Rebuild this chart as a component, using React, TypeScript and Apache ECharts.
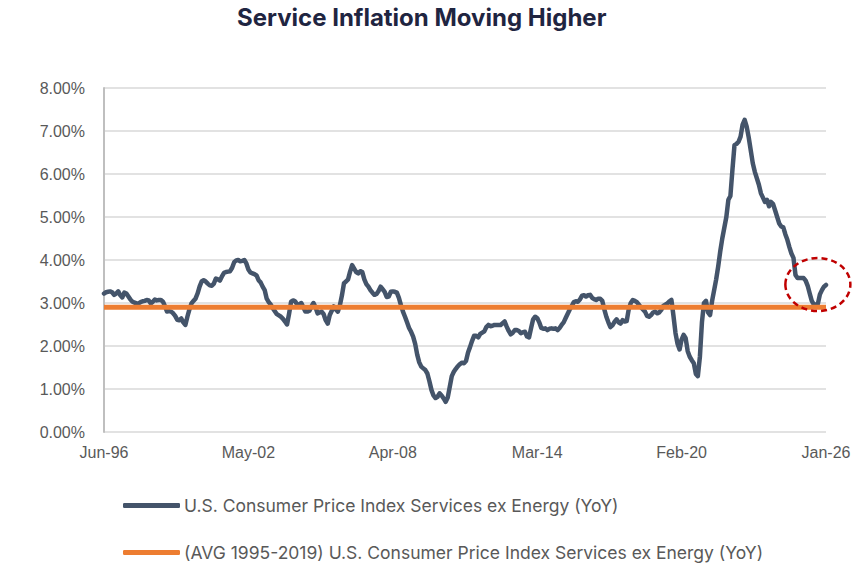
import React, { useEffect, useRef } from "react";
import * as echarts from "echarts";

// Monthly YoY readings, starting Jun-1996 and ending Jan-2026
const startYear = 1996;
const startMonth = 5; // June (0-based)
const monthNames = ["Jan", "Feb", "Mar", "Apr", "May", "Jun", "Jul", "Aug", "Sep", "Oct", "Nov", "Dec"];

const servicesExEnergy: number[] = [
  3.22, 3.25, 3.26, 3.27, 3.25, 3.19, 3.22, 3.27, 3.18, 3.13, 3.24, 3.22,
  3.15, 3.08, 3.03, 3.01, 2.99, 2.99, 3.02, 3.04, 3.05, 3.07, 3.06, 2.99,
  3.03, 3.08, 3.06, 3.07, 3.07, 3.03, 2.92, 2.80, 2.81, 2.80, 2.76, 2.70,
  2.61, 2.60, 2.64, 2.55, 2.49, 2.68, 2.85, 2.99, 3.05, 3.10, 3.22, 3.38,
  3.50, 3.53, 3.50, 3.45, 3.41, 3.40, 3.45, 3.57, 3.55, 3.52, 3.62, 3.70,
  3.72, 3.73, 3.74, 3.82, 3.95, 3.99, 4.00, 3.97, 3.98, 4.00, 3.92, 3.78,
  3.71, 3.69, 3.67, 3.64, 3.53, 3.48, 3.38, 3.30, 3.10, 3.02, 2.96, 2.88,
  2.81, 2.74, 2.71, 2.68, 2.63, 2.57, 2.50, 2.75, 3.03, 3.06, 3.04, 2.96,
  2.97, 3.00, 2.90, 2.80, 2.80, 2.82, 2.92, 3.00, 2.90, 2.76, 2.78, 2.80,
  2.74, 2.60, 2.52, 2.72, 2.82, 2.92, 2.85, 2.80, 2.95, 3.18, 3.46, 3.50,
  3.55, 3.73, 3.88, 3.80, 3.72, 3.69, 3.74, 3.72, 3.55, 3.44, 3.38, 3.30,
  3.24, 3.19, 3.21, 3.28, 3.38, 3.32, 3.26, 3.14, 3.15, 3.26, 3.27, 3.26,
  3.24, 3.12, 2.95, 2.80, 2.68, 2.55, 2.42, 2.33, 2.22, 2.05, 1.80, 1.62,
  1.52, 1.48, 1.44, 1.36, 1.18, 0.98, 0.85, 0.79, 0.82, 0.90, 0.85, 0.78,
  0.70, 0.80, 1.05, 1.30, 1.40, 1.47, 1.53, 1.58, 1.61, 1.60, 1.65, 1.85,
  1.98, 2.12, 2.24, 2.24, 2.20, 2.28, 2.31, 2.34, 2.44, 2.49, 2.46, 2.47,
  2.49, 2.49, 2.49, 2.49, 2.53, 2.57, 2.45, 2.35, 2.27, 2.31, 2.37, 2.37,
  2.35, 2.30, 2.32, 2.33, 2.22, 2.20, 2.42, 2.62, 2.68, 2.65, 2.55, 2.42,
  2.40, 2.41, 2.37, 2.40, 2.41, 2.40, 2.41, 2.37, 2.42, 2.49, 2.55, 2.65,
  2.75, 2.85, 2.93, 3.02, 3.04, 3.03, 3.08, 3.17, 3.18, 3.15, 3.18, 3.19,
  3.12, 3.09, 3.07, 3.10, 3.10, 3.05, 2.85, 2.68, 2.55, 2.44, 2.48, 2.56,
  2.62, 2.55, 2.52, 2.60, 2.57, 2.58, 2.85, 3.00, 3.07, 3.05, 3.02, 2.96,
  2.90, 2.85, 2.80, 2.70, 2.68, 2.72, 2.78, 2.80, 2.76, 2.78, 2.84, 2.93,
  2.96, 2.99, 3.04, 3.07, 2.70, 2.30, 2.05, 1.92, 2.15, 2.26, 2.18, 1.88,
  1.75, 1.67, 1.60, 1.35, 1.30, 1.75, 2.55, 3.00, 3.05, 2.78, 2.72, 3.05,
  3.30, 3.55, 3.85, 4.20, 4.50, 4.75, 5.00, 5.40, 5.49, 6.10, 6.67, 6.70,
  6.75, 6.87, 7.15, 7.26, 7.10, 6.85, 6.55, 6.25, 6.05, 5.90, 5.75, 5.55,
  5.45, 5.35, 5.40, 5.25, 5.35, 5.30, 5.15, 5.00, 4.85, 4.78, 4.76, 4.60,
  4.47, 4.30, 4.15, 4.05, 3.65, 3.58, 3.58, 3.58, 3.58, 3.52, 3.40, 3.22,
  3.05, 2.97, 2.95, 2.98, 3.20, 3.30, 3.38, 3.42,
];

// Long-run average (1995-2019)
const avgValue = 2.9;

const categories: string[] = servicesExEnergy.map((_, i) => {
  const m = startMonth + i;
  const y = startYear + Math.floor(m / 12);
  return `${monthNames[m % 12]}-${String(y % 100).padStart(2, "0")}`;
});

const seriesNames = [
  "U.S. Consumer Price Index Services ex Energy (YoY)",
  "(AVG 1995-2019) U.S. Consumer Price Index Services ex Energy (YoY)",
];

const yTicks = { min: 0, max: 8, interval: 1 };

// Point the dashed circle is drawn around (latest readings)
const highlightAt = { index: 350.8, value: 3.43 };

const bodyFont = 'Inter, "Open Sans", "Liberation Sans", sans-serif';
const axisFont = '"Liberation Sans", Arial, sans-serif';

export default function App() {
  const ref = useRef<HTMLDivElement>(null);

  useEffect(() => {
    if (!ref.current) return;
    const chart = echarts.init(ref.current, undefined, { renderer: "svg" });
    chart.setOption({
      animation: false,
      backgroundColor: "#ffffff",
      title: {
        text: "Service Inflation Moving Higher",
        left: 232,
        top: 0,
        textStyle: {
          fontFamily: bodyFont,
          fontWeight: "bold",
          fontSize: 24,
          color: "#1f2541",
        },
      },
      grid: { left: 104, right: 40, top: 88, bottom: 143, containLabel: false },
      xAxis: {
        type: "category",
        data: categories,
        boundaryGap: false,
        axisLine: { show: false },
        axisTick: { show: false },
        axisLabel: {
          interval: 70,
          margin: 12,
          color: "#595959",
          fontSize: 16,
          fontFamily: axisFont,
        },
        splitLine: { show: false },
      },
      yAxis: {
        type: "value",
        min: yTicks.min,
        max: yTicks.max,
        interval: yTicks.interval,
        axisLine: { show: true, lineStyle: { color: "#bfbfbf", width: 2 } },
        axisTick: { show: false },
        axisLabel: {
          margin: 19,
          color: "#595959",
          fontSize: 16,
          fontFamily: axisFont,
          formatter: (v: number) => `${v.toFixed(2)}%`,
        },
        splitLine: { lineStyle: { color: "#d9d9d9", width: 1.5 } },
      },
      legend: {
        orient: "vertical",
        left: 118,
        top: 490,
        itemWidth: 57,
        itemHeight: 5,
        itemGap: 26,
        icon: "roundRect",
        textStyle: {
          color: "#595959",
          fontSize: 17.5,
          fontFamily: bodyFont,
          lineHeight: 21,
          padding: [0, 0, 0, -1],
        },
        data: seriesNames,
      },
      series: [
        {
          name: seriesNames[0],
          type: "line",
          data: servicesExEnergy,
          showSymbol: false,
          symbol: "none",
          lineStyle: { color: "#44546a", width: 4.5, join: "round", cap: "round" },
          itemStyle: { color: "#44546a" },
          z: 2,
        },
        {
          name: seriesNames[1],
          type: "line",
          data: categories.map(() => avgValue),
          showSymbol: false,
          symbol: "none",
          lineStyle: { color: "#ed7d31", width: 5 },
          itemStyle: { color: "#ed7d31" },
          z: 3,
        },
      ],
    });

    const [cx, cy] = chart.convertToPixel({ xAxisIndex: 0, yAxisIndex: 0 }, [
      highlightAt.index,
      highlightAt.value,
    ]) as number[];
    chart.setOption({
      graphic: [
        {
          type: "ellipse",
          shape: { cx, cy, rx: 32.5, ry: 26.5 },
          style: { fill: "none", stroke: "#c00000", lineWidth: 2.5, lineDash: [6, 4] },
          z: 10,
        },
      ],
    });

    return () => chart.dispose();
  }, []);

  return (
    <div
      ref={ref}
      style={{ position: "absolute", left: 0, top: 0, width: 866, height: 575 }}
    />
  );
}
